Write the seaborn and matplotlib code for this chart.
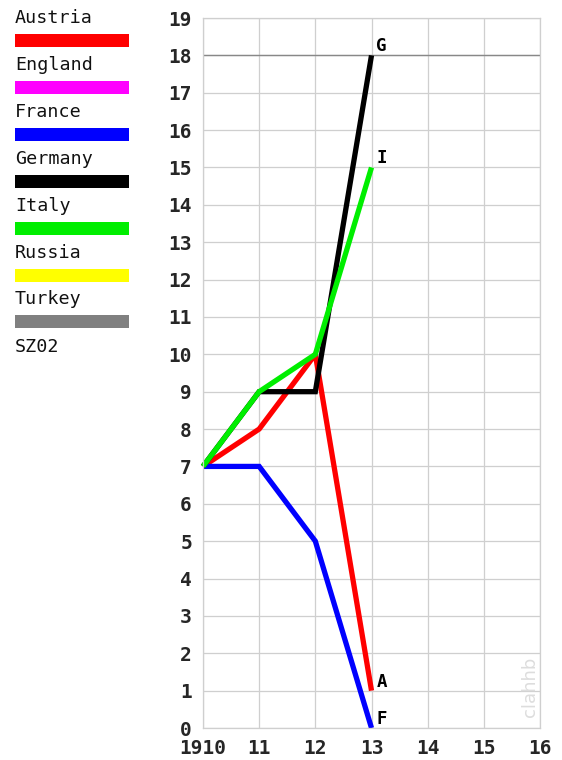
import matplotlib
matplotlib.use('Agg')
import matplotlib.pyplot as plt
import pandas as pd
import seaborn as sns
from matplotlib.patches import Rectangle

sns.set_style('white')
plt.rcParams['font.family'] = ['DejaVu Sans Mono', 'DejaVu Sans']

# supply centre counts per year
years = [1910, 1911, 1912, 1913]
austria = [7, 8, 10, 1]
france = [7, 7, 5, 0]
germany = [7, 9, 9, 18]
italy = [7, 9, 10, 15]

countries = ['Austria', 'England', 'France', 'Germany', 'Italy', 'Russia', 'Turkey']
colors = ['#ff0000', '#ff00ff', '#0000ff', '#000000', '#00ee00', '#ffff00', '#808080']
end_labels = {'Austria': 'A', 'France': 'F', 'Germany': 'G', 'Italy': 'I'}
win_line = 18
xtick_vals = [1910, 1911, 1912, 1913, 1914, 1915, 1916]
xtick_labels = ['1910', '11', '12', '13', '14', '15', '16']

series = {'Austria': austria, 'France': france, 'Germany': germany, 'Italy': italy}
rows = []
for name, vals in series.items():
    for y, v in zip(years, vals):
        rows.append({'year': y, 'centres': v, 'country': name})
df = pd.DataFrame(rows)
palette = dict(zip(countries, colors))

W, H = 562, 760
fig = plt.figure(figsize=(W / 100, H / 100), dpi=100)
ax = fig.add_axes([203 / W, 1 - 728 / H, 337 / W, 710 / H])

ax.set_xlim(1910, 1916)
ax.set_ylim(0, 19)
ax.set_xticks(xtick_vals)
ax.set_xticklabels(xtick_labels)
ax.set_yticks(range(0, 20))
ax.grid(True, color='#cfcfcf', linewidth=0.9, zorder=0)
ax.set_axisbelow(True)
for s in ax.spines.values():
    s.set_color('#cfcfcf')
    s.set_linewidth(0.9)
ax.axhline(win_line, color='#888888', linewidth=1.0, zorder=1)

sns.lineplot(data=df, x='year', y='centres', hue='country',
             hue_order=[c for c in countries if c in series],
             palette=palette, linewidth=3.8, legend=False, ax=ax,
             solid_capstyle='butt', solid_joinstyle='miter', clip_on=False)

for name, vals in series.items():
    ax.annotate(end_labels[name], (years[-1], vals[-1]), xytext=(3.5, 6.5),
                textcoords='offset points', ha='left', va='center',
                fontsize=12.5, fontweight='bold', color='black')

ax.tick_params(axis='both', length=0, labelsize=14, pad=8)
for lab in ax.get_xticklabels() + ax.get_yticklabels():
    lab.set_fontweight('bold')
ax.set_xlabel('')
ax.set_ylabel('')

ax.text(1915.83, 1.1, 'clahhb', rotation=90, ha='center', va='center',
        fontsize=13, color='#dddddd', family='DejaVu Sans')

# legend panel on the left, in pixel coordinates
lax = fig.add_axes([0, 0, 1, 1])
lax.set_xlim(0, W)
lax.set_ylim(H, 0)
lax.axis('off')
lax.patch.set_alpha(0)
for i, (name, c) in enumerate(zip(countries, colors)):
    ty = 18 + i * 46.9
    lax.text(15, ty, name, ha='left', va='center', fontsize=13.2, color='#111111')
    lax.add_patch(Rectangle((15, ty + 16), 114, 13, color=c, linewidth=0))
lax.text(15, 347, 'SZ02', ha='left', va='center', fontsize=13.2, color='#111111')

fig.savefig('out.png', dpi=100, facecolor='white')
